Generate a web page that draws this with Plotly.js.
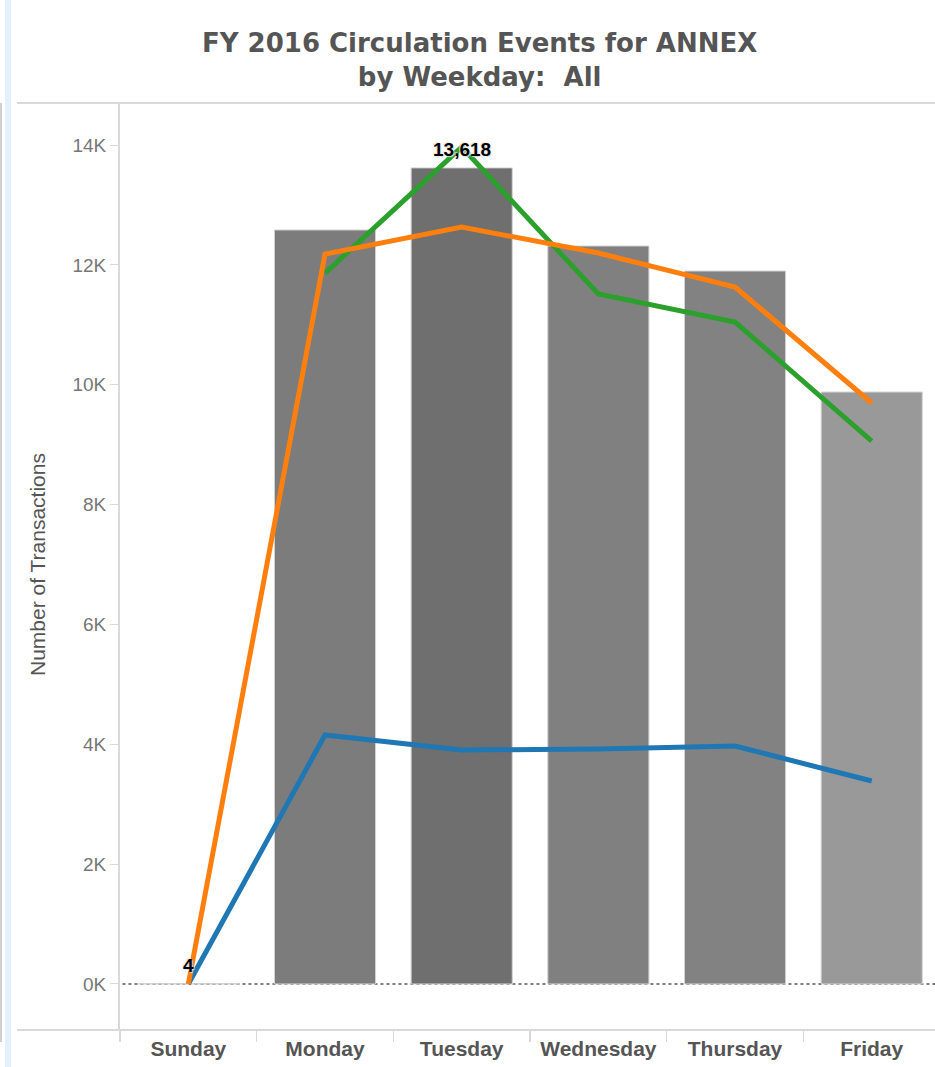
<!DOCTYPE html>
<html>
<head>
<meta charset="utf-8">
<script src="https://cdn.plot.ly/plotly-3.0.1.min.js"></script>
<style>html,body{margin:0;padding:0;background:#fff;}#chart{width:935px;height:1067px;}</style>
</head>
<body>
<div id="chart"></div>
<script>
// ---- data ----
var weekdays = ["Sunday", "Monday", "Tuesday", "Wednesday", "Thursday", "Friday"];
var totalTransactions = [4, 12582, 13618, 12315, 11897, 9878];
var seriesBlue = [0, 4155, 3905, 3921, 3971, 3387];
var seriesOrange = [0, 12180, 12632, 12197, 11630, 9695];
var seriesGreen = [null, 11860, 13966, 11513, 11046, 9060];
var barColors = ["#7c7c7c", "#7c7c7c", "#6f6f6f", "#808080", "#828282", "#999999"];
var yTickVals = [0, 2000, 4000, 6000, 8000, 10000, 12000, 14000];
var yTickText = ["0K", "2K", "4K", "6K", "8K", "10K", "12K", "14K"];

var maxV = Math.max.apply(null, totalTransactions);
var minV = Math.min.apply(null, totalTransactions);

var traces = [
  {
    type: "bar", x: weekdays, y: totalTransactions,
    marker: {color: barColors, line: {color: "#d4d4d4", width: 1}},
    width: 0.74,
    hoverinfo: "x+y", showlegend: false
  },
  {type: "scatter", mode: "lines", x: weekdays, y: seriesBlue,
   line: {color: "#1f77b4", width: 5}, showlegend: false},
  {type: "scatter", mode: "lines", x: weekdays, y: seriesGreen,
   line: {color: "#2ca02c", width: 5}, showlegend: false},
  {type: "scatter", mode: "lines", x: weekdays, y: seriesOrange,
   line: {color: "#ff7f0e", width: 5}, showlegend: false}
];

var annotations = [{
  text: "Number of Transactions", textangle: -90,
  xref: "paper", x: -83 / 815, xanchor: "center",
  yref: "paper", y: (1030 - 565) / 927, yanchor: "middle",
  showarrow: false,
  font: {family: "Liberation Sans, Arial, sans-serif", size: 21, color: "#555"}
}];
totalTransactions.forEach(function (v, i) {
  if (v === maxV || v === minV) {
    annotations.push({
      text: v.toLocaleString("en-US"), x: weekdays[i], y: v, xref: "x", yref: "y",
      yanchor: "bottom", yshift: 6, showarrow: false,
      font: {family: "Liberation Sans, Arial, sans-serif", size: 19, color: "#000", weight: 700,
             shadow: "1px 1px 1px #cfe3f5, -1px -1px 1px #ffe0bf"}
    });
  }
});

var layout = {
  width: 935, height: 1067,
  margin: {l: 120, r: 0, t: 103, b: 37},
  paper_bgcolor: "#fff", plot_bgcolor: "#fff",
  title: {
    text: "<b>FY 2016 Circulation Events for ANNEX<br>by Weekday:  All</b>",
    font: {family: "DejaVu Sans, sans-serif", size: 26, color: "#555"},
    xref: "container", x: 0.513, xanchor: "center",
    yref: "container", y: 1 - 52 / 1067, yanchor: "top"
  },
  xaxis: {
    type: "category", range: [-0.5, 5.463],
    tickson: "boundaries", ticks: "outside", ticklen: 11, tickcolor: "#d9d9d9", tickwidth: 1.5,
    ticklabelstandoff: 4,
    showline: false, showgrid: false, zeroline: false,
    tickfont: {family: "Liberation Sans, Arial, sans-serif", size: 21, color: "#555", weight: 700},
    fixedrange: true
  },
  yaxis: {
    range: [-768, 14701],
    tickvals: yTickVals, ticktext: yTickText,
    ticks: "outside", ticklen: 8, tickcolor: "#d9d9d9", tickwidth: 1,
    showline: true, linecolor: "#d9d9d9", linewidth: 2,
    showgrid: false, zeroline: false,
    tickfont: {family: "Liberation Sans, Arial, sans-serif", size: 19, color: "#777"},
    fixedrange: true
  },
  annotations: annotations,
  shapes: [
    {type: "line", layer: "below", xref: "paper", x0: 0.003, x1: 1, yref: "y", y0: 0, y1: 0,
     line: {color: "#555", width: 1.5, dash: "dot"}},
    {type: "line", xref: "paper", x0: -103 / 815, x1: 1, yref: "paper", y0: 1, y1: 1,
     line: {color: "#d9d9d9", width: 2}},
    {type: "line", xref: "paper", x0: -103 / 815, x1: 1, yref: "paper", y0: 0, y1: 0,
     line: {color: "#d9d9d9", width: 2}},
    {type: "line", xref: "paper", x0: -119 / 815, x1: -119 / 815, yref: "paper", y0: 1, y1: -12 / 927,
     line: {color: "#d0d0d0", width: 2}},
    {type: "rect", xref: "paper", x0: -115 / 815, x1: -109 / 815, yref: "paper", y0: 1.12, y1: -0.05,
     fillcolor: "#e4f1fa", line: {width: 0}}
  ]
};

Plotly.newPlot("chart", traces, layout, {displayModeBar: false, staticPlot: true});
</script>
</body>
</html>
